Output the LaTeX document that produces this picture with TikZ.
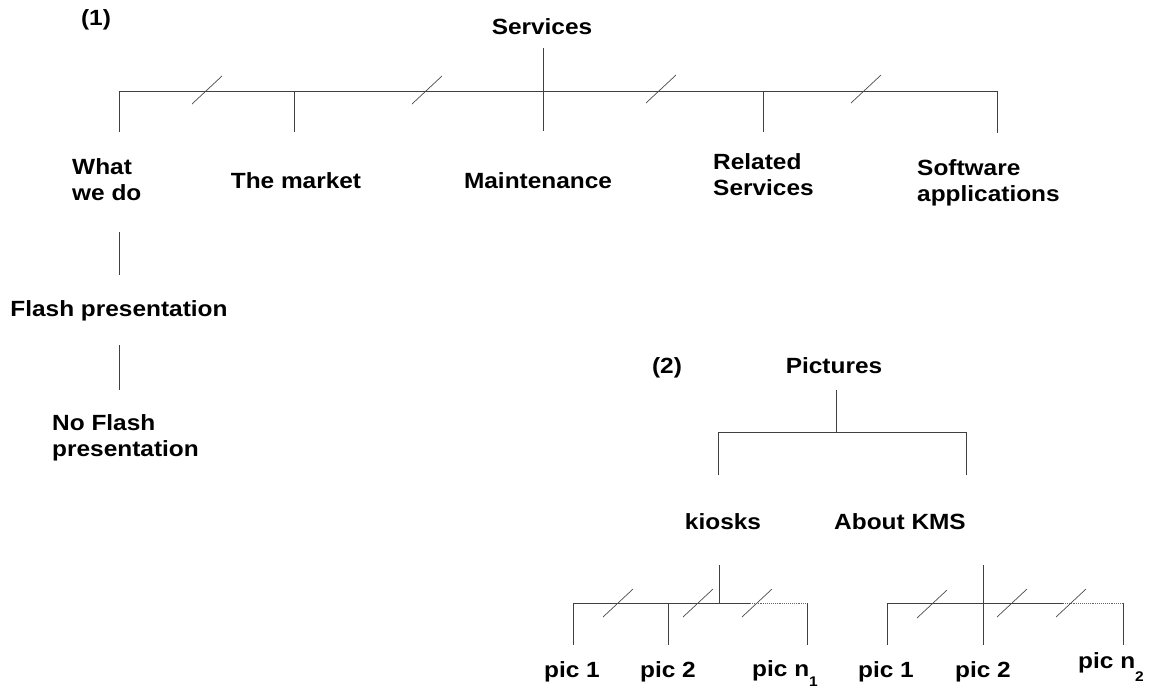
\documentclass[tikz,border=0pt]{standalone}
\usepackage{fontspec}
\setmainfont{Liberation Sans}
\begin{document}
\begin{tikzpicture}[x=1pt,y=-1pt]
	\tikzstyle{lbl}=[font=\bfseries\fontsize{22}{26}\selectfont,xscale=1.11,inner sep=0pt]
	\tikzstyle{mlbl}=[lbl,align=left,anchor=base west]
	\tikzstyle{branch}=[draw=black!75,line width=0.9pt]
	\tikzstyle{slash}=[draw=black!70,line width=0.7pt]
	\tikzstyle{more}=[draw=black!60,line width=0.9pt,densely dotted]
	\useasboundingbox[fill=white] (0,0) rectangle (1149,689);
	% (1) services
	\node[lbl,anchor=base] (S-num) at (96,25) {(1)};
	\node[lbl,anchor=base] (S-root) at (542,34) {Services};
	\node[mlbl] (S-what) at (72,200) {What\\we do};
	\node[lbl,anchor=base] (S-market) at (296,188) {The market};
	\node[lbl,anchor=base] (S-maint) at (538,188) {Maintenance};
	\node[mlbl] (S-related) at (713,195) {Related\\Services};
	\node[mlbl] (S-soft) at (917,201) {Software\\applications};
	\node[lbl,anchor=base] (S-flash) at (119,316) {Flash presentation};
	\node[mlbl] (S-noflash) at (52,456) {No Flash\\presentation};
	\coordinate (S-top) at (543,48);
	\coordinate (S-bar) at (543,91);
	\coordinate (S-maint-up) at (543,131);
	\coordinate (S-what-up) at (119,132);
	\coordinate (S-market-up) at (294,132);
	\coordinate (S-related-up) at (763,132);
	\coordinate (S-soft-up) at (997,133);
	\coordinate (S-what-dn) at (119,232);
	\coordinate (S-flash-up) at (119,275);
	\coordinate (S-flash-dn) at (119,345);
	\coordinate (S-noflash-up) at (119,390);
	\draw[branch] (S-top) -- (S-maint-up);
	\draw[branch] (S-what-up) -- (S-what-up |- S-bar) -- (S-soft-up |- S-bar) -- (S-soft-up);
	\draw[branch] (S-market-up) -- (S-market-up |- S-bar);
	\draw[branch] (S-related-up) -- (S-related-up |- S-bar);
	\draw[branch] (S-what-dn) -- (S-flash-up);
	\draw[branch] (S-flash-dn) -- (S-noflash-up);
	\draw[slash] (192,104) -- (222,76);
	\draw[slash] (412,104) -- (442,76);
	\draw[slash] (646,103) -- (676,75);
	\draw[slash] (851,103) -- (881,75);
	% (2) pictures
	\node[lbl,anchor=base] (P-num) at (667,373) {(2)};
	\node[lbl,anchor=base] (P-root) at (834,373) {Pictures};
	\node[lbl,anchor=base] (P-kiosk) at (723,529) {kiosks};
	\node[lbl,anchor=base] (P-kms) at (900,529) {About KMS};
	\node[lbl,anchor=base] (K-pic1) at (572,677) {pic 1};
	\node[lbl,anchor=base] (K-pic2) at (668,677) {pic 2};
	\node[lbl,anchor=base west] (K-picn) at (752,676) {pic n\raisebox{-10pt}{\fontsize{14}{14}\selectfont 1}};
	\node[lbl,anchor=base] (M-pic1) at (886,677) {pic 1};
	\node[lbl,anchor=base] (M-pic2) at (983,677) {pic 2};
	\node[lbl,anchor=base west] (M-picn) at (1078,668) {pic n\raisebox{-13pt}{\fontsize{14}{14}\selectfont 2}};
	\coordinate (P-top) at (836,390);
	\coordinate (P-bar) at (836,432);
	\coordinate (P-kiosk-up) at (718,475);
	\coordinate (P-kms-up) at (966,475);
	\draw[branch] (P-top) -- (P-bar);
	\draw[branch] (P-kiosk-up) -- (P-kiosk-up |- P-bar) -- (P-kms-up |- P-bar) -- (P-kms-up);
	% kiosks
	\coordinate (K-top) at (719,565);
	\coordinate (K-bar) at (719,603);
	\coordinate (K-dot) at (750,603);
	\coordinate (K-pic1-up) at (573,645);
	\coordinate (K-pic2-up) at (668,645);
	\coordinate (K-picn-up) at (807,645);
	\draw[branch] (K-top) -- (K-bar);
	\draw[branch] (K-pic1-up) -- (K-pic1-up |- K-bar) -- (K-dot);
	\draw[more] (K-dot) -- (K-picn-up |- K-bar);
	\draw[branch] (K-pic2-up) -- (K-pic2-up |- K-bar);
	\draw[branch] (K-picn-up |- K-bar) -- (K-picn-up);
	\draw[slash] (603,617) -- (633,589);
	\draw[slash] (683,617) -- (713,589);
	\draw[slash] (742,617) -- (772,589);
	% about KMS
	\coordinate (M-top) at (983,565);
	\coordinate (M-bar) at (983,603);
	\coordinate (M-dot) at (1063,603);
	\coordinate (M-pic1-up) at (887,645);
	\coordinate (M-pic2-up) at (983,645);
	\coordinate (M-picn-up) at (1123,645);
	\draw[branch] (M-top) -- (M-pic2-up);
	\draw[branch] (M-pic1-up) -- (M-pic1-up |- M-bar) -- (M-dot);
	\draw[more] (M-dot) -- (M-picn-up |- M-bar);
	\draw[branch] (M-picn-up |- M-bar) -- (M-picn-up);
	\draw[slash] (917,618) -- (947,590);
	\draw[slash] (997,617) -- (1027,589);
	\draw[slash] (1056,617) -- (1086,589);
\end{tikzpicture}
\end{document}
